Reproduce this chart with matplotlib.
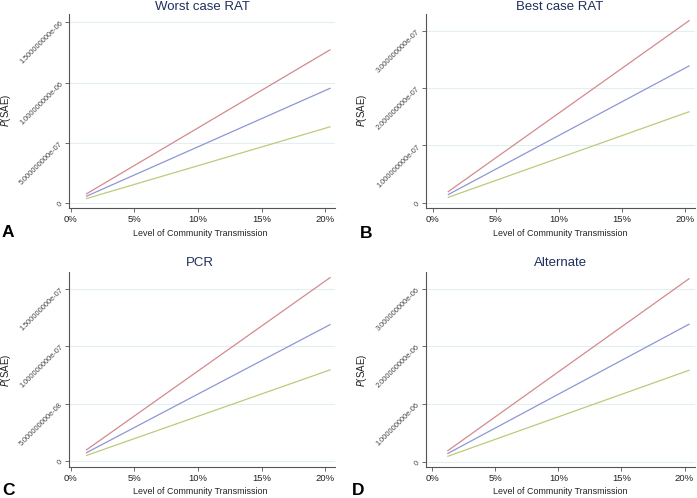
import matplotlib
matplotlib.use("Agg")
import matplotlib.pyplot as plt
from matplotlib.ticker import FuncFormatter

plt.rcParams['font.family'] = ['Liberation Sans', 'DejaVu Sans']

# Data: level of community transmission (fraction) at the line ends
transmission = [0.012, 0.204]

titles = ["Worst case RAT", "Best case RAT", "PCR", "Alternate"]
letters = ["A", "B", "C", "D"]

# P(SAE) for three scenarios (red, blue, green), per panel
worst_red = [0.75e-7, 1.275e-6]
worst_blue = [0.56e-7, 0.955e-6]
worst_green = [0.37e-7, 0.635e-6]

best_red = [0.19e-7, 3.18e-7]
best_blue = [0.14e-7, 2.39e-7]
best_green = [0.093e-7, 1.59e-7]

pcr_red = [0.094e-7, 1.60e-7]
pcr_blue = [0.070e-7, 1.19e-7]
pcr_green = [0.047e-7, 0.795e-7]

alt_red = [1.87e-7, 3.18e-6]
alt_blue = [1.40e-7, 2.39e-6]
alt_green = [0.93e-7, 1.59e-6]

x_ticks = [0, 0.05, 0.10, 0.15, 0.20]
y_ticks = [
    [0, 5e-7, 1e-6, 1.5e-6],
    [0, 1e-7, 2e-7, 3e-7],
    [0, 5e-8, 1e-7, 1.5e-7],
    [0, 1e-6, 2e-6, 3e-6],
]
y_limits = [
    (-0.04e-6, 1.57e-6),
    (-0.09e-7, 3.29e-7),
    (-0.52e-8, 1.646e-7),
    (-0.09e-6, 3.29e-6),
]
panels = [
    (worst_red, worst_blue, worst_green),
    (best_red, best_blue, best_green),
    (pcr_red, pcr_blue, pcr_green),
    (alt_red, alt_blue, alt_green),
]

colors = ["#d38a8f", "#8d97d6", "#bccb7a"]

W, H = 697, 498
fig = plt.figure(figsize=(W / 100, H / 100), dpi=100)
fig.patch.set_facecolor("white")

# pixel boxes (left, top, right, bottom)
boxes = [
    (69, 14, 335, 208),
    (426, 14, 695, 208),
    (69, 272, 335, 467),
    (425.5, 272, 695, 467),
]
xlims = [(-0.0013, 0.2075), (-0.0053, 0.2083), (-0.0013, 0.2075), (-0.0053, 0.2083)]

letter_pos = [(2, 232), (360, 233), (2, 490), (352, 490)]
title_pos = [(202, 7), (560, 7), (200, 263), (561, 263)]
xlabel_pos = [(200, 233), (560, 233), (200, 491), (560, 491)]
ylabel_pos = [(6, 110), (362, 110), (6, 370), (362, 370)]

def sci_fmt(v, pos):
    if v == 0:
        return "0"
    return "%.9e" % v

for i in range(4):
    l, t, r, b = boxes[i]
    ax = fig.add_axes([l / W, 1 - b / H, (r - l) / W, (b - t) / H])
    ax.set_facecolor("white")
    for series, c in zip(panels[i], colors):
        ax.plot(transmission, series, color=c, lw=0.9, solid_capstyle="butt")
    ax.set_xlim(*xlims[i])
    ax.set_ylim(*y_limits[i])
    ax.set_xticks(x_ticks)
    ax.xaxis.set_major_formatter(FuncFormatter(lambda v, p: "%d%%" % round(v * 100)))
    ax.set_yticks(y_ticks[i])
    ax.yaxis.set_major_formatter(FuncFormatter(sci_fmt))
    ax.grid(axis="y", color="#e3eef0", lw=0.8)
    ax.set_axisbelow(True)
    for s in ["top", "right"]:
        ax.spines[s].set_visible(False)
    for s in ["left", "bottom"]:
        ax.spines[s].set_color("#555555")
        ax.spines[s].set_linewidth(0.8)
    ax.tick_params(axis="x", labelsize=6.8, colors="#555555", labelcolor="#222222", length=3, width=0.6, pad=2)
    ax.tick_params(axis="y", labelsize=5.3, colors="#555555", labelcolor="#444444", length=3, width=0.6, pad=2)
    for lab in ax.get_yticklabels():
        lab.set_rotation(45)
        lab.set_rotation_mode("anchor")
        lab.set_ha("right")
        lab.set_va("center")

    fig.text(title_pos[i][0] / W, 1 - title_pos[i][1] / H, titles[i], ha="center", va="center",
             fontsize=9.5, color="#1e2f5e")
    fig.text(xlabel_pos[i][0] / W, 1 - xlabel_pos[i][1] / H, "Level of Community Transmission",
             ha="center", va="center", fontsize=6.4, color="#222222")
    fig.text(ylabel_pos[i][0] / W, 1 - ylabel_pos[i][1] / H, r"$\mathit{P}$(SAE)",
             ha="center", va="center", rotation=90, fontsize=7, color="#222222")
    fig.text(letter_pos[i][0] / W, 1 - letter_pos[i][1] / H, letters[i], ha="left", va="center",
             fontsize=12.5, fontweight="bold", color="black")

fig.savefig("out.png", dpi=100, facecolor="white")
